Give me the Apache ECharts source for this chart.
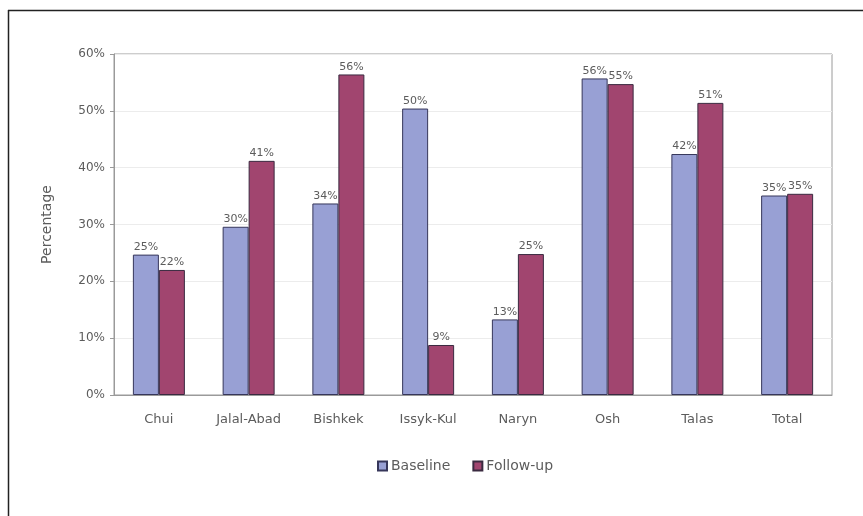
<!DOCTYPE html>
<html>
<head>
<meta charset="utf-8">
<title>Baseline vs Follow-up by region</title>
<script src="https://cdn.jsdelivr.net/npm/echarts@6/dist/echarts.min.js"></script>
<style>
  html, body { margin: 0; padding: 0; background: #ffffff; }
  #chart { width: 863px; height: 516px; }
</style>
</head>
<body>
<div id="chart"></div>
<script>
// Regions shown along the x axis
const regions = ['Chui', 'Jalal-Abad', 'Bishkek', 'Issyk-Kul', 'Naryn', 'Osh', 'Talas', 'Total'];

// Share of respondents (%) at each survey round
const baseline = [24.7, 29.6, 33.7, 50.4, 13.3, 55.7, 42.4, 35.1];
const followUp = [22.0, 41.2, 56.4, 8.8, 24.8, 54.7, 51.4, 35.4];

// Y axis range and step (percent)
const yMin = 0;
const yMax = 60;
const yStep = 10;

const seriesNames = ['Baseline', 'Follow-up'];

const textColor = '#5c5c5c';
const fontFamily = '"DejaVu Sans", Verdana, sans-serif';

const chart = echarts.init(document.getElementById('chart'), null, { renderer: 'canvas' });

const valueLabel = {
  show: true,
  position: 'top',
  distance: 2,
  color: textColor,
  fontSize: 11,
  fontFamily: fontFamily,
  formatter: p => Math.round(p.value) + '%'
};

chart.setOption({
  animation: false,
  backgroundColor: '#ffffff',
  textStyle: { fontFamily: fontFamily },
  grid: {
    left: 114, right: 31, top: 54, bottom: 121,
    show: true,
    borderColor: '#9a9a9a',
    borderWidth: 1
  },
  legend: {
    data: seriesNames,
    left: 372,
    top: 454,
    itemWidth: 9,
    itemHeight: 9,
    itemGap: 22,
    icon: 'rect',
    textStyle: { color: textColor, fontSize: 14, fontFamily: fontFamily, padding: [0, 0, 0, -1] }
  },
  xAxis: {
    type: 'category',
    data: regions,
    axisLine: { show: true, lineStyle: { color: '#9a9a9a' } },
    axisTick: { show: false },
    axisLabel: { color: textColor, fontSize: 13, margin: 18, fontFamily: fontFamily }
  },
  yAxis: {
    type: 'value',
    min: yMin,
    max: yMax,
    interval: yStep,
    name: 'Percentage',
    nameLocation: 'middle',
    nameGap: 60,
    nameTextStyle: { color: textColor, fontSize: 14, fontFamily: fontFamily },
    axisLine: { show: true, lineStyle: { color: '#9a9a9a' } },
    axisTick: { show: true, length: 4, lineStyle: { color: '#9a9a9a' } },
    axisLabel: { color: textColor, fontSize: 12, margin: 9, fontFamily: fontFamily, formatter: '{value}%' },
    splitLine: { show: true, lineStyle: { color: '#ececec', width: 1 } }
  },
  series: [
    {
      name: seriesNames[0],
      type: 'bar',
      data: baseline,
      barWidth: 26,
      barGap: '0%',
      itemStyle: { color: '#98a0d4', borderColor: '#36365a', borderWidth: 1 },
      label: valueLabel
    },
    {
      name: seriesNames[1],
      type: 'bar',
      data: followUp,
      barWidth: 26,
      barGap: '0%',
      itemStyle: { color: '#a1456f', borderColor: '#3a2a40', borderWidth: 1 },
      label: valueLabel
    }
  ],
  graphic: [
    // outer frame: top and left edges
    { type: 'line', shape: { x1: 8, y1: 10.5, x2: 863, y2: 10.5 }, style: { stroke: '#222', lineWidth: 1.5 } },
    { type: 'line', shape: { x1: 8.5, y1: 10, x2: 8.5, y2: 516 }, style: { stroke: '#222', lineWidth: 1.5 } }
  ]
});
</script>
</body>
</html>
